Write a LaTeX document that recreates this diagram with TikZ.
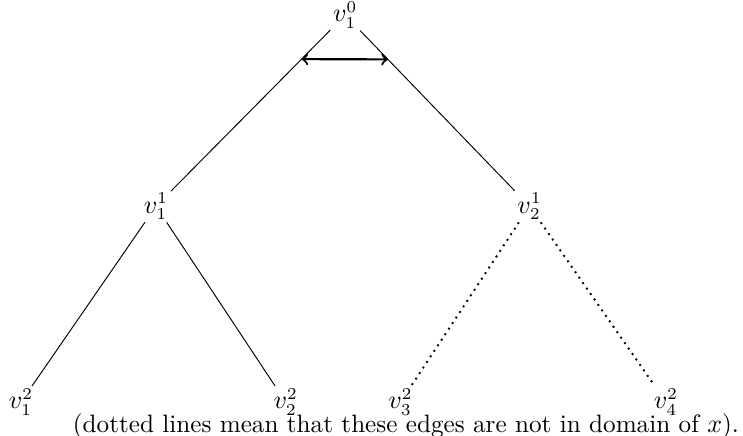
\documentclass[tikz,border=0pt]{standalone}
\begin{document}
\begin{tikzpicture}[line width=0.4pt, font=\fontsize{10.6}{13}\selectfont,
    vx/.style={inner sep=1pt}]
  \useasboundingbox (0,0) rectangle (11,6.453);
  \node[vx] (r) at (5.11,6.23) {$v_1^0$};
  \node[vx] (a) at (2.31,3.40) {$v_1^1$};
  \node[vx] (b) at (7.84,3.40) {$v_2^1$};
  \node[vx] (a1) at (0.31,0.50) {$v_1^2$};
  \node[vx] (a2) at (4.23,0.50) {$v_2^2$};
  \node[vx] (b1) at (5.93,0.50) {$v_3^2$};
  \node[vx] (b2) at (9.86,0.50) {$v_4^2$};
  \draw (r) -- coordinate[pos=0.18] (pl) (a);
  \draw (r) -- coordinate[pos=0.18] (pr) (b);
  \draw (a) -- (a1);
  \draw (a) -- (a2);
  \draw[dotted, line width=0.8pt] (b) -- (b1);
  \draw[dotted, line width=0.8pt] (b) -- (b2);
  \draw[<->, line width=0.9pt] (pl) -- (pr);
  \node (note) at (6.01,0.15) {(dotted lines mean that these edges are not in domain of $x$).};
\end{tikzpicture}
\end{document}
